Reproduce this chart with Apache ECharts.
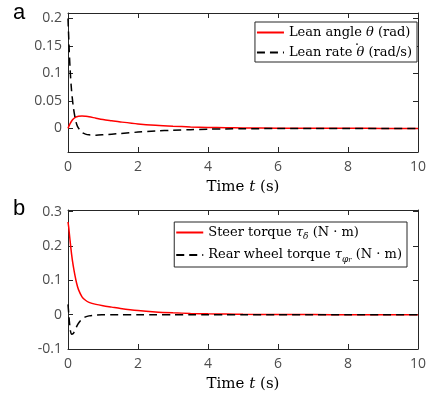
<!DOCTYPE html>
<html><head><meta charset="utf-8">
<script src="https://cdn.jsdelivr.net/npm/echarts@6/dist/echarts.min.js"></script>
<style>html,body{margin:0;padding:0;background:#fff}#c{width:432px;height:397px}</style>
</head><body><div id="c"></div>
<script>
// Panel a data
const tA = [0,0.03,0.06,0.1,0.15,0.2,0.25,0.3,0.4,0.5,0.6,0.8,1,1.25,1.5,2,2.5,3,3.5,4,4.5,5,6,7,8,9,10];
const leanAngle = [0,0.0045,0.0085,0.013,0.017,0.0197,0.0212,0.022,0.0223,0.0219,0.0212,0.0185,0.016,0.0138,0.0117,0.0081,0.0056,0.0039,0.0027,0.0018,0.0012,0.0008,0.0004,0.0002,0.0001,0,0];
const leanRate = [0.2,0.15,0.108,0.07,0.04,0.02,0.007,0.0005,-0.0075,-0.0105,-0.0118,-0.0123,-0.0117,-0.0105,-0.0093,-0.0068,-0.0048,-0.0033,-0.0023,-0.0015,-0.001,-0.0007,-0.0003,-0.0001,0,0,0];
// Panel b data
const tB = [0,0.02,0.05,0.1,0.15,0.2,0.25,0.3,0.4,0.5,0.6,0.8,1,1.25,1.5,2,2.5,3,3.5,4,4.5,5,6,7,8,9,10];
const steerTorque = [0.27,0.255,0.225,0.178,0.142,0.114,0.09,0.073,0.052,0.042,0.036,0.03,0.026,0.022,0.018,0.012,0.008,0.0055,0.0037,0.0025,0.0017,0.0011,0.0005,0.0002,0.0001,0,0];
const rearTorque = [0.03,0.005,-0.03,-0.057,-0.055,-0.045,-0.034,-0.025,-0.013,-0.0065,-0.0035,-0.001,-0.0003,0,0,0,0,0,0,0,0,0,0,0,0,0,0];
const xTicks = [0,2,4,6,8,10];
const yTicksA = [0,0.05,0.1,0.15,0.2];
const yTicksB = [-0.1,0,0.1,0.2,0.3];
const names = ['Lean angle \u03B8 (rad)','Lean rate \u03B8\u0307 (rad/s)','Steer torque \u03C4\u03B4 (N\u00B7m)','Rear wheel torque \u03C4\u03C6r (N\u00B7m)'];

const pair = (t, v) => t.map((x, i) => [x, v[i]]);
const axisCol = '#262626', labCol = '#4d4d4d';
const serif = "'DejaVu Serif', 'Liberation Serif', serif";
const rich = {
  r: {fontFamily: serif, fontSize: 13, color: '#000', lineHeight: 18},
  i: {fontFamily: serif, fontSize: 13, color: '#000', fontStyle: 'italic', lineHeight: 18},
  s: {fontFamily: serif, fontSize: 9, color: '#000', fontStyle: 'italic', verticalAlign: 'bottom', lineHeight: 12},
  ss: {fontFamily: serif, fontSize: 7, color: '#000', fontStyle: 'italic', verticalAlign: 'bottom', lineHeight: 8}
};
const legendFmt = {
  [names[0]]: '{r|Lean angle }{i|\u03B8}{r| (rad)}',
  [names[1]]: '{r|Lean rate }{i|\u03B8}{r| (rad/s)}',
  [names[2]]: '{r|Steer torque }{i|\u03C4}{s|\u03B4}{r| (N \u00B7 m)}',
  [names[3]]: '{r|Rear wheel torque }{i|\u03C4}{s|\u03C6}{ss|r}{r| (N \u00B7 m)}'
};

function xAx(grid, bottom) {
  return {
    type: 'value', gridIndex: grid, min: 0, max: 10, interval: 2,
    position: bottom ? 'bottom' : 'top',
    axisLine: {show: true, onZero: false, lineStyle: {color: axisCol, width: 1}},
    axisTick: {show: true, inside: true, length: 5, lineStyle: {color: axisCol}},
    axisLabel: {show: bottom, color: labCol, fontSize: 14, fontFamily: "'Open Sans', sans-serif", margin: 8},
    splitLine: {show: false},
    name: bottom ? '{r|Time }{i|t}{r| (s)}' : '',
    nameLocation: 'middle', nameGap: 28,
    nameTextStyle: {rich: {r: {fontFamily: serif, fontSize: 15, color: '#000'}, i: {fontFamily: serif, fontSize: 15, color: '#000', fontStyle: 'italic'}}}
  };
}
function yAx(grid, left, min, max, ticks) {
  return {
    type: 'value', gridIndex: grid, min: min, max: max,
    position: left ? 'left' : 'right',
    axisLine: {show: true, onZero: false, lineStyle: {color: axisCol, width: 1}},
    axisTick: {show: true, inside: true, length: 5, lineStyle: {color: axisCol}, customValues: ticks},
    axisLabel: {show: left, color: labCol, fontSize: 14, fontFamily: "'Open Sans', sans-serif", margin: 6, customValues: ticks,
      formatter: v => String(+v.toFixed(3))},
    splitLine: {show: false}
  };
}
function legend(data, right, top) {
  return {
    data: data, orient: 'vertical', right: right, top: top,
    itemWidth: 27, itemHeight: 12, itemGap: 7,
    padding: [4, 5, 3, 1],
    borderColor: axisCol, borderWidth: 1, backgroundColor: '#fff',
    itemStyle: {opacity: 0},
    formatter: n => legendFmt[n],
    textStyle: {rich: rich, fontFamily: serif, fontSize: 13, color: '#000'}
  };
}

const chart = echarts.init(document.getElementById('c'), null, {renderer: 'canvas'});
chart.setOption({
  animation: false,
  backgroundColor: '#fff',
  grid: [
    {left: 68, top: 13, width: 350, height: 139},
    {left: 68, top: 210, width: 350, height: 139}
  ],
  xAxis: [xAx(0, true), xAx(0, false), xAx(1, true), xAx(1, false)],
  yAxis: [yAx(0, true, -0.043, 0.21, yTicksA), yAx(0, false, -0.043, 0.21, yTicksA),
          yAx(1, true, -0.1, 0.305, yTicksB), yAx(1, false, -0.1, 0.305, yTicksB)],
  legend: [legend([names[0], names[1]], 15, 22), legend([names[2], names[3]], 25, 222)],
  graphic: [
    {type: 'text', left: 13, top: 2, style: {text: 'a', font: "22px 'Liberation Sans', sans-serif", fill: '#000'}},
    {type: 'text', left: 13, top: 198, style: {text: 'b', font: "22px 'Liberation Sans', sans-serif", fill: '#000'}},
    {type: 'text', x: 357, y: 51, z: 100, style: {text: '\u02D9', font: "14px 'DejaVu Serif', serif", fill: '#000', textAlign: 'center', textVerticalAlign: 'middle'}}
  ],
  series: [
    {name: names[0], type: 'line', xAxisIndex: 0, yAxisIndex: 0, data: pair(tA, leanAngle), showSymbol: false, symbol: 'none', smooth: 0.3,
      lineStyle: {color: '#ff0000', width: 1.5}, itemStyle: {color: '#ff0000'}},
    {name: names[1], type: 'line', xAxisIndex: 0, yAxisIndex: 0, data: pair(tA, leanRate), showSymbol: false, symbol: 'none', smooth: 0.3,
      lineStyle: {color: '#000', width: 1.5, type: [8, 5]}, itemStyle: {color: '#000'}},
    {name: names[2], type: 'line', xAxisIndex: 2, yAxisIndex: 2, data: pair(tB, steerTorque), showSymbol: false, symbol: 'none', smooth: 0.3,
      lineStyle: {color: '#ff0000', width: 1.5}, itemStyle: {color: '#ff0000'}},
    {name: names[3], type: 'line', xAxisIndex: 2, yAxisIndex: 2, data: pair(tB, rearTorque), showSymbol: false, symbol: 'none', smooth: 0.3,
      lineStyle: {color: '#000', width: 1.5, type: [8, 5]}, itemStyle: {color: '#000'}}
  ]
});
</script></body></html>
